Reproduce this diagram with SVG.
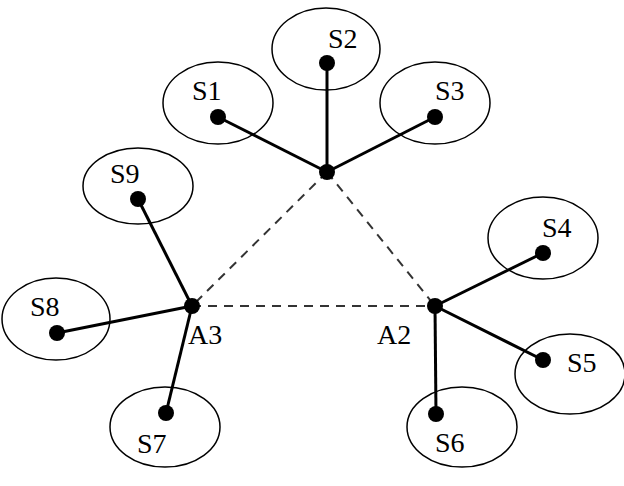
<svg xmlns="http://www.w3.org/2000/svg" width="624" height="486" viewBox="0 0 624 486">
<style>
.ell{fill:none;stroke:#000;stroke-width:1.5}
.dot{fill:#000}
.lbl{font-family:"Liberation Serif","Times New Roman",serif;font-size:28px;fill:#000}
.solid{stroke:#000;stroke-width:3;fill:none}
.dash{stroke:#333;stroke-width:2;stroke-dasharray:9 7;fill:none}
</style>
<rect width="624" height="486" fill="#fff"/>
<g id="connectors">
<line class="dash" x1="327" y1="172" x2="192" y2="306"/>
<line class="dash" x1="327" y1="172" x2="435" y2="306"/>
<line class="dash" x1="192" y1="306" x2="435" y2="306"/>
<line class="solid" x1="327" y1="172" x2="218" y2="117"/>
<line class="solid" x1="327" y1="172" x2="327" y2="63"/>
<line class="solid" x1="327" y1="172" x2="435" y2="117"/>
<line class="solid" x1="435" y1="306" x2="543" y2="253"/>
<line class="solid" x1="435" y1="306" x2="543" y2="360"/>
<line class="solid" x1="435" y1="306" x2="436" y2="414"/>
<line class="solid" x1="192" y1="306" x2="138" y2="199"/>
<line class="solid" x1="192" y1="306" x2="57" y2="333"/>
<line class="solid" x1="192" y1="306" x2="166" y2="413"/>
</g>
<g id="A1"><circle class="dot" cx="327" cy="172" r="8"/></g>
<g id="A2"><circle class="dot" cx="435" cy="306" r="8"/><text class="lbl" x="377" y="344">A2</text></g>
<g id="A3"><circle class="dot" cx="192" cy="306" r="8"/><text class="lbl" x="188" y="344">A3</text></g>
<g id="S1"><ellipse class="ell" cx="218" cy="103" rx="55" ry="41"/><circle class="dot" cx="218" cy="117" r="8"/><text class="lbl" x="192" y="100">S1</text></g>
<g id="S2"><ellipse class="ell" cx="326" cy="49" rx="54" ry="41"/><circle class="dot" cx="327" cy="63" r="8"/><text class="lbl" x="328" y="48">S2</text></g>
<g id="S3"><ellipse class="ell" cx="435" cy="103" rx="55" ry="41"/><circle class="dot" cx="435" cy="117" r="8"/><text class="lbl" x="435" y="100">S3</text></g>
<g id="S4"><ellipse class="ell" cx="543" cy="238" rx="55" ry="41"/><circle class="dot" cx="543" cy="253" r="8"/><text class="lbl" x="542" y="237">S4</text></g>
<g id="S5"><ellipse class="ell" cx="570" cy="374" rx="55" ry="40"/><circle class="dot" cx="543" cy="360" r="8"/><text class="lbl" x="567" y="372">S5</text></g>
<g id="S6"><ellipse class="ell" cx="462" cy="427" rx="55" ry="40"/><circle class="dot" cx="436" cy="414" r="8"/><text class="lbl" x="435" y="452">S6</text></g>
<g id="S7"><ellipse class="ell" cx="165" cy="427" rx="55" ry="40"/><circle class="dot" cx="166" cy="413" r="8"/><text class="lbl" x="137" y="453">S7</text></g>
<g id="S8"><ellipse class="ell" cx="56" cy="319" rx="54" ry="41"/><circle class="dot" cx="57" cy="333" r="8"/><text class="lbl" x="30" y="316">S8</text></g>
<g id="S9"><ellipse class="ell" cx="138" cy="186" rx="55" ry="38"/><circle class="dot" cx="138" cy="199" r="8"/><text class="lbl" x="110" y="183">S9</text></g>
</svg>
